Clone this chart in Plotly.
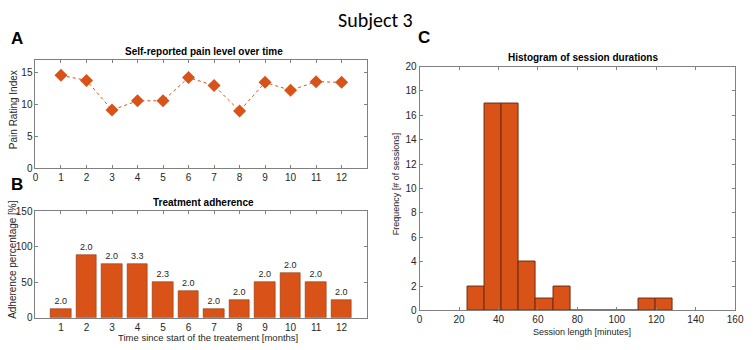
import plotly.graph_objects as go

# ---- data ----
months = [1, 2, 3, 4, 5, 6, 7, 8, 9, 10, 11, 12]
pain_index = [14.6, 13.8, 9.15, 10.6, 10.6, 14.25, 13.0, 9.0, 13.5, 12.25, 13.6, 13.5]
adherence = [12.5, 87.5, 75, 75, 50, 37.5, 12.5, 25, 50, 62.5, 50, 25]
adherence_labels = ["2.0", "2.0", "2.0", "3.3", "2.3", "2.0", "2.0", "2.0", "2.0", "2.0", "2.0", "2.0"]
bin_edges = [24.3, 33.0, 41.6, 50.3, 59.0, 67.7, 76.3, 85.0, 93.7, 102.4, 111.1, 119.7, 128.4]
bin_counts = [2, 17, 17, 4, 1, 2, 0, 0, 0, 0, 1, 1]

ORANGE = "#D95319"
EDGE = "#6e2a0e"
AX = "#808080"
TXT = "#262626"
FONT = "Liberation Sans, Arial, sans-serif"

W, H = 753, 350
def px(x):
    return x / W
def py(y):
    return 1 - y / H

bin_centers = [(bin_edges[i] + bin_edges[i + 1]) / 2 for i in range(len(bin_counts))]
bin_widths = [bin_edges[i + 1] - bin_edges[i] for i in range(len(bin_counts))]

fig = go.Figure()

fig.add_trace(go.Scatter(
    x=months, y=pain_index, mode="lines+markers",
    line=dict(color=ORANGE, width=1, dash="dot"),
    marker=dict(symbol="diamond", size=10, color=ORANGE),
    xaxis="x", yaxis="y", showlegend=False))

fig.add_trace(go.Bar(
    x=months, y=adherence, width=0.8,
    marker=dict(color=ORANGE, line=dict(color="#8a3510", width=0.6)),
    text=adherence_labels, textposition="outside", cliponaxis=False,
    textfont=dict(size=9, color=TXT, family=FONT),
    xaxis="x2", yaxis="y2", showlegend=False))

fig.add_trace(go.Bar(
    x=bin_centers, y=bin_counts, width=bin_widths,
    marker=dict(color=ORANGE, line=dict(color=EDGE, width=1)),
    xaxis="x3", yaxis="y3", showlegend=False))

axis_common = dict(showline=True, linecolor=AX, linewidth=1, mirror="allticks",
                   ticks="inside", ticklen=3, tickcolor=AX, showgrid=False,
                   zeroline=False, tickfont=dict(size=10, color=TXT, family=FONT))

fig.update_layout(
    width=W, height=H, margin=dict(l=0, r=0, t=0, b=0),
    paper_bgcolor="white", plot_bgcolor="white",
    bargap=0,
    xaxis=dict(domain=[px(33), px(370)], range=[0, 13], tickvals=list(range(0, 13)),
               anchor="y", **axis_common),
    yaxis=dict(domain=[py(168), py(56)], range=[0, 17], tickvals=[0, 5, 10, 15],
               anchor="x", **axis_common),
    xaxis2=dict(domain=[px(33), px(370)], range=[0, 13], tickvals=months,
                anchor="y2", **axis_common),
    yaxis2=dict(domain=[py(322.7), py(212.3)], range=[0, 150], tickvals=[0, 50, 100, 150],
                anchor="x2", **axis_common),
    xaxis3=dict(domain=[px(423.3), px(744)], range=[0, 160], tickvals=list(range(0, 161, 20)),
                anchor="y3", **axis_common),
    yaxis3=dict(domain=[py(315.3), py(62.7)], range=[0, 20], tickvals=list(range(0, 21, 2)),
                anchor="x3", **axis_common),
)

ann = []
def add_text(x, y, text, size=10, bold=False, angle=0, family=FONT, color=TXT):
    ann.append(dict(x=px(x), y=py(y), xref="paper", yref="paper", text=f"<b>{text}</b>" if bold else text,
                    showarrow=False, textangle=angle, xanchor="center", yanchor="middle",
                    font=dict(size=size, color=color, family=family)))

add_text(379, 14, "Subject 3", size=20, family="Carlito, Lato, Noto Sans, sans-serif", color="#000000")
add_text(14, 34, "A", size=17, bold=True, color="#000000")
add_text(14, 185, "B", size=17, bold=True, color="#000000")
add_text(427.5, 32.5, "C", size=17, bold=True, color="#000000")
add_text(204, 47.5, "Self-reported pain level over time", size=10, bold=True, color="#000000")
add_text(203.5, 203, "Treatment adherence", size=10, bold=True, color="#000000")
add_text(589, 53, "Histogram of session durations", size=10, bold=True, color="#000000")
add_text(11, 107, "Pain Rating Index", size=10, angle=-90)
add_text(9, 262, "Adherence percentage [%]", size=10, angle=-90)
add_text(208, 343, "Time since start of the treatement [months]", size=9.5)
add_text(399, 184, "Frequency [# of sessions]", size=9, angle=-90)
add_text(588.5, 338, "Session length [minutes]", size=9)
fig.update_layout(annotations=ann)

fig.write_html("out.html", config={"displayModeBar": False},
               post_script="document.body.style.margin='0';document.body.style.overflow='hidden';")
